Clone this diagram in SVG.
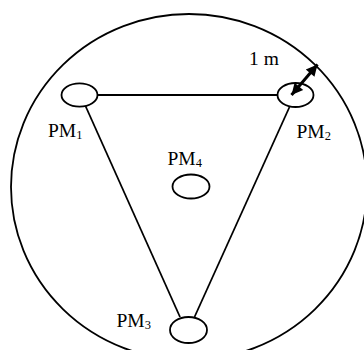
<svg xmlns="http://www.w3.org/2000/svg" width="364" height="350" viewBox="0 0 364 350">
<style>
.s{fill:none;stroke:#000;stroke-width:1.8}
.n{fill:#fff;stroke:#000;stroke-width:1.8}
.t{font-family:"Liberation Serif","Times New Roman",serif;font-size:19.5px;fill:#000}
.sub{font-size:12.5px}
</style>
<defs>
<marker id="ah" viewBox="0 0 10 10" refX="10" refY="5" markerWidth="4.6" markerHeight="3.8" orient="auto-start-reverse" markerUnits="strokeWidth">
<path d="M0,0 L10,5 L0,10 z" fill="#000"/>
</marker>
</defs>
<rect width="364" height="350" fill="#fff"/>
<g id="boundary"><ellipse class="s" cx="189" cy="187" rx="178" ry="173"/></g>
<g id="pm1"><ellipse class="n" cx="79.5" cy="95" rx="18" ry="11.7"/><text class="t" x="48" y="137">PM<tspan class="sub" dy="2">1</tspan></text></g>
<g id="pm2"><ellipse class="n" cx="295.5" cy="95" rx="18" ry="12"/><text class="t" x="296.5" y="138">PM<tspan class="sub" dy="2">2</tspan></text></g>
<g id="pm4"><ellipse class="n" cx="191" cy="186.5" rx="18.5" ry="12"/><text class="t" x="167.5" y="165">PM<tspan class="sub" dy="2">4</tspan></text></g>
<g id="pm3"><ellipse class="n" cx="188.5" cy="330" rx="18.5" ry="13"/><text class="t" x="116.5" y="327">PM<tspan class="sub" dy="2">3</tspan></text></g>
<g id="connectors">
<line class="s" x1="97.5" y1="95" x2="277.5" y2="95"/>
<line class="s" x1="85.5" y1="106" x2="180" y2="317"/>
<line class="s" x1="289.5" y1="107" x2="194.5" y2="317"/>
<line x1="291.5" y1="95" x2="317.5" y2="64.5" stroke="#000" stroke-width="3" marker-start="url(#ah)" marker-end="url(#ah)"/>
</g>
<text class="t" x="249" y="65">1 m</text>
</svg>
